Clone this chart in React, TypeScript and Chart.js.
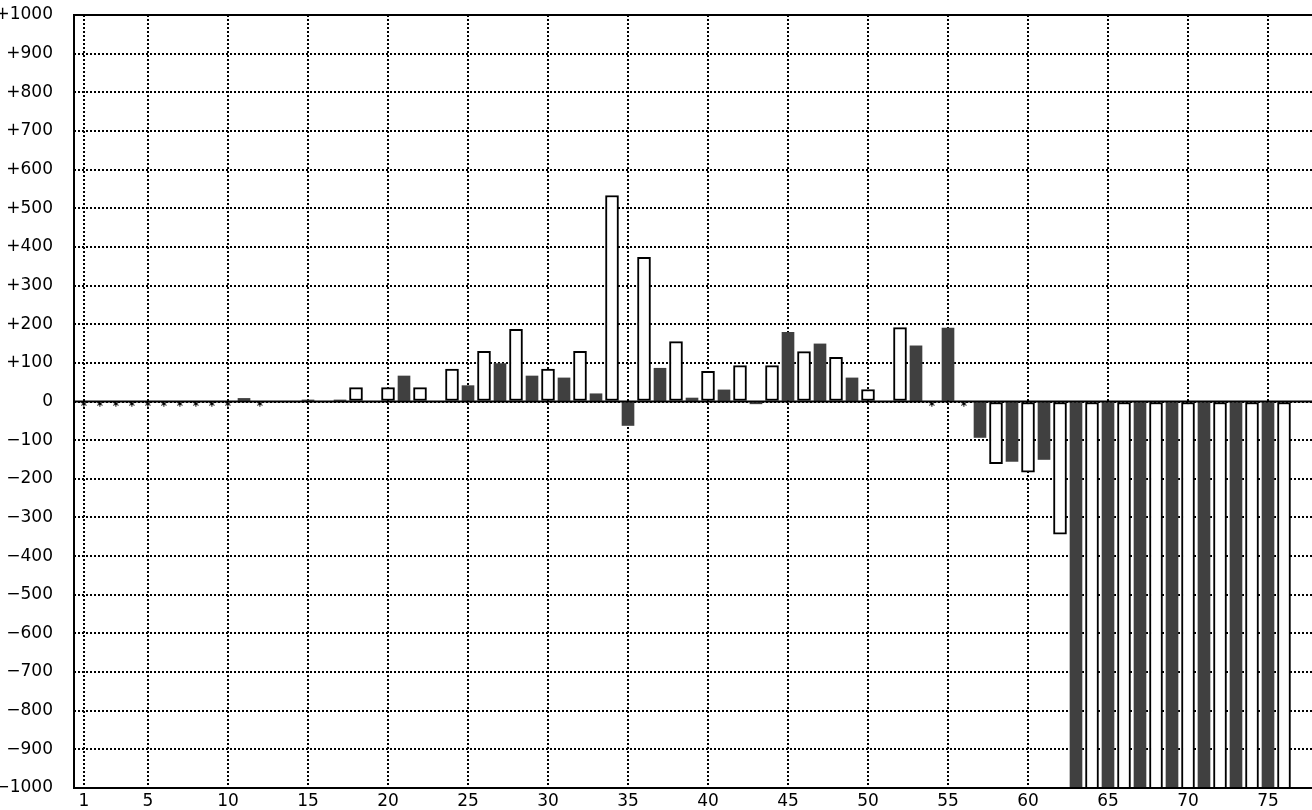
import React, { useEffect, useRef } from 'react';
import { Chart, registerables } from 'chart.js';

Chart.register(...registerables);

const categories: number[] = [
  1, 2, 3, 4, 5, 6, 7, 8, 9, 10, 11, 12, 13, 14, 15, 16, 17, 18, 19, 20,
  21, 22, 23, 24, 25, 26, 27, 28, 29, 30, 31, 32, 33, 34, 35, 36, 37, 38, 39, 40,
  41, 42, 43, 44, 45, 46, 47, 48, 49, 50, 51, 52, 53, 54, 55, 56, 57, 58, 59, 60,
  61, 62, 63, 64, 65, 66, 67, 68, 69, 70, 71, 72, 73, 74, 75, 76,
];

// null = no value (drawn as an asterisk on the zero line)
const values: (number | null)[] = [
  null, null, null, null, null, null, null, null, null, null, // 1-10
  8, null, 0, 0, 4, 0, 4, 36, 0, 36, // 11-20
  66, 36, 0, 84, 41, 130, 98, 187, 66, 84, // 21-30
  61, 130, 20, 533, -62, 373, 86, 155, 9, 78, // 31-40
  30, 93, -6, 93, 179, 129, 149, 114, 61, 31, // 41-50
  0, 191, 144, null, 190, null, -93, -161, -155, -183, // 51-60
  -150, -343, -1100, -1100, -1100, -1100, -1100, -1100, -1100, -1100, // 61-70
  -1100, -1100, -1100, -1100, -1100, -1100, // 71-76
];

const xTickValues: number[] = [1, 5, 10, 15, 20, 25, 30, 35, 40, 45, 50, 55, 60, 65, 70, 75];
const yMin = -1000;
const yMax = 1000;
const yStep = 100;

const FONT = '"DejaVu Sans", Verdana, sans-serif';

function yLabel(v: number): string {
  if (v > 0) return '+' + v;
  if (v < 0) return '\u2212' + -v;
  return '0';
}

const framePlugin = {
  id: 'frame',
  afterDatasetsDraw(chart: any) {
    const { ctx, chartArea, scales } = chart;
    const y0 = scales.y.getPixelForValue(0);
    ctx.save();
    ctx.strokeStyle = '#000';
    ctx.lineWidth = 2;
    ctx.setLineDash([]);
    ctx.beginPath();
    ctx.moveTo(chartArea.left, y0);
    ctx.lineTo(chartArea.right, y0);
    ctx.moveTo(chartArea.left, chartArea.top);
    ctx.lineTo(chartArea.right, chartArea.top);
    ctx.moveTo(chartArea.left, chartArea.bottom);
    ctx.lineTo(chartArea.right, chartArea.bottom);
    ctx.moveTo(chartArea.left, chartArea.top - 1);
    ctx.lineTo(chartArea.left, chartArea.bottom + 1);
    ctx.stroke();
    ctx.fillStyle = '#000';
    ctx.font = 'bold 12px ' + FONT;
    ctx.textAlign = 'center';
    ctx.textBaseline = 'middle';
    categories.forEach((c, i) => {
      if (values[i] === null) {
        ctx.fillText('*', scales.x.getPixelForValue(c), y0 + 5);
      }
    });
    ctx.restore();
  },
};

export default function App() {
  const canvasRef = useRef<HTMLCanvasElement | null>(null);

  useEffect(() => {
    document.body.style.margin = '0';
    const canvas = canvasRef.current;
    if (!canvas) return;

    const darkData: { x: number; y: number }[] = [];
    const lightData: { x: number; y: number }[] = [];
    categories.forEach((c, i) => {
      const v = values[i];
      if (v === null || v === 0) return;
      if (c % 2 === 1) darkData.push({ x: c, y: v });
      else lightData.push({ x: c, y: v });
    });

    const chart = new Chart(canvas, {
      type: 'bar',
      data: {
        datasets: [
          {
            data: darkData as any,
            backgroundColor: '#404040',
            borderWidth: 0,
            barThickness: 12,
            grouped: false,
          } as any,
          {
            data: lightData as any,
            backgroundColor: '#ffffff',
            borderColor: '#000000',
            borderWidth: 2,
            borderSkipped: false,
            barThickness: 13,
            grouped: false,
          } as any,
        ],
      },
      options: {
        animation: false,
        responsive: false,
        maintainAspectRatio: false,
        layout: { padding: { top: 15, left: 0, right: 0, bottom: 0 } },
        plugins: {
          legend: { display: false },
          tooltip: { enabled: false },
        },
        scales: {
          x: {
            type: 'linear',
            offset: false,
            min: 0.375,
            max: 77.75,
            afterBuildTicks: (scale: any) => {
              scale.ticks = xTickValues.map((v) => ({ value: v }));
            },
            afterFit: (scale: any) => {
              scale.height = 22;
              scale.paddingLeft = 0;
              scale.paddingRight = 0;
            },
            ticks: {
              autoSkip: false,
              maxRotation: 0,
              padding: 3,
              color: '#000',
              font: { family: FONT, size: 17 },
              callback: (v: any) => String(v),
            },
            grid: {
              offset: false,
              color: '#000',
              lineWidth: 2,
              drawTicks: false,
            },
            border: { display: false, dash: [2, 2] },
          },
          y: {
            type: 'linear',
            min: yMin,
            max: yMax,
            afterFit: (scale: any) => {
              scale.width = 74;
              scale.paddingTop = 0;
              scale.paddingBottom = 0;
            },
            ticks: {
              stepSize: yStep,
              padding: 21,
              color: '#000',
              font: { family: FONT, size: 17 },
              callback: (v: any) => yLabel(Number(v)),
            },
            grid: {
              color: '#000',
              lineWidth: 2,
              drawTicks: false,
            },
            border: { display: false, dash: [2, 2] },
          },
        },
      } as any,
      plugins: [framePlugin],
    });

    return () => {
      chart.destroy();
    };
  }, []);

  return (
    <div style={{ position: 'fixed', left: 0, top: 0, width: 1312, height: 810, background: '#fff' }}>
      <canvas ref={canvasRef} width={1312} height={810} style={{ display: 'block' }} />
    </div>
  );
}
